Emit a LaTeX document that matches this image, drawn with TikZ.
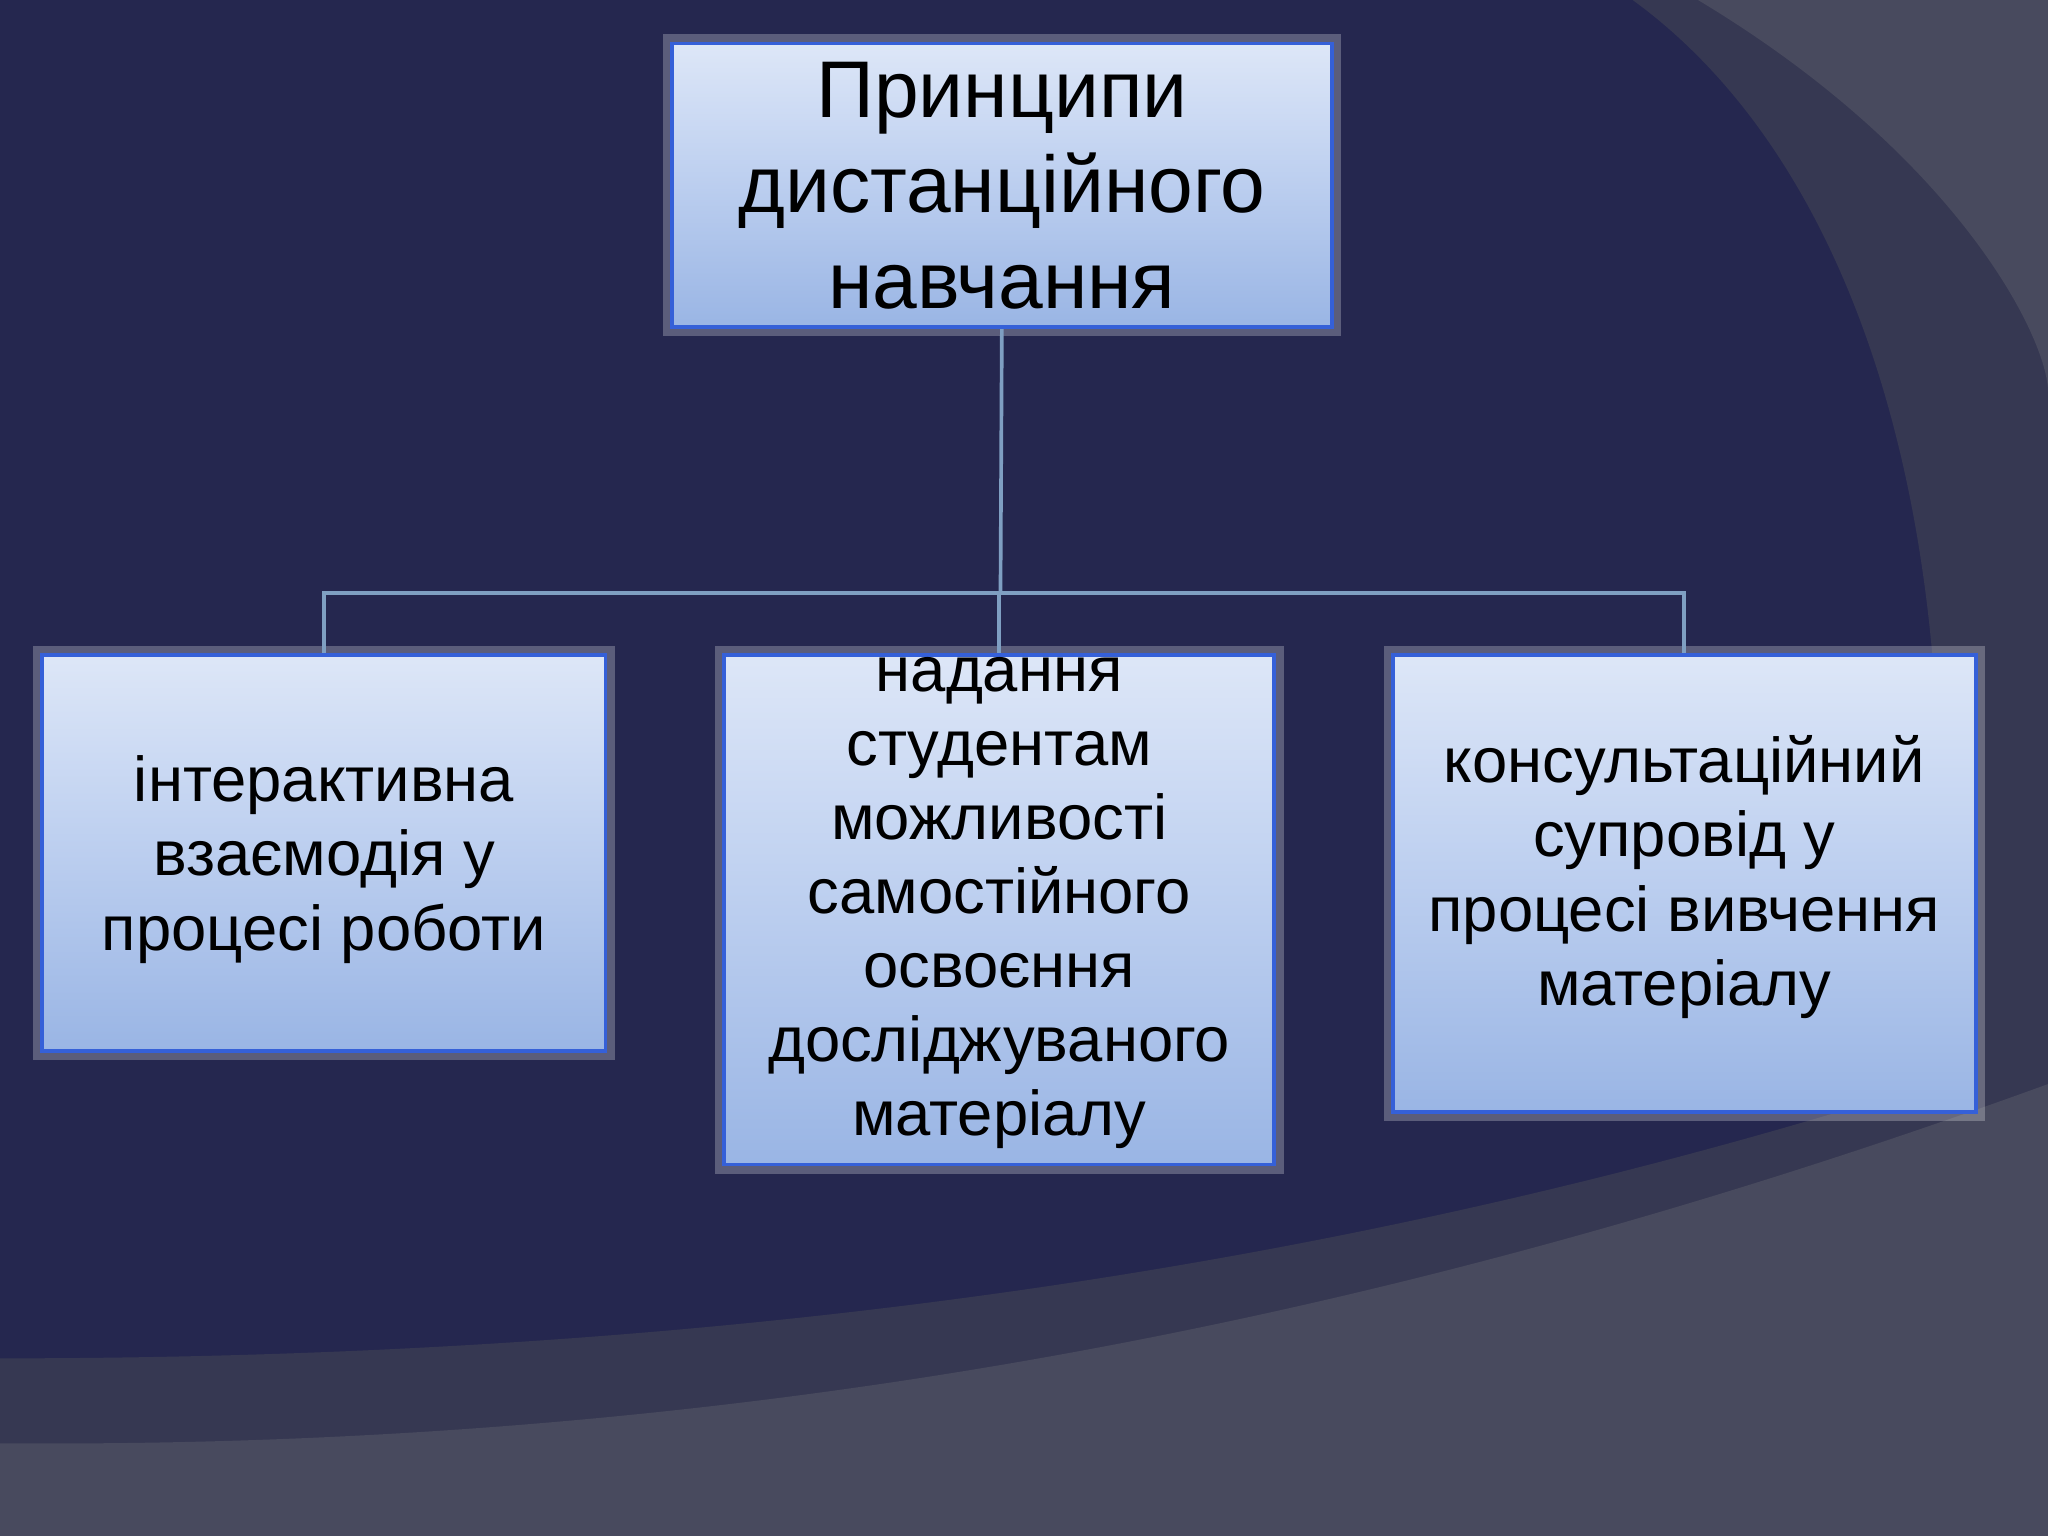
\documentclass[tikz,border=0pt]{standalone}
\usepackage{fontspec}
\setmainfont{Liberation Sans}
\definecolor{navy}{HTML}{25274F}
\definecolor{midg}{HTML}{363852}
\definecolor{lightg}{HTML}{484A5E}
\definecolor{bA}{HTML}{D2DEF6}
\definecolor{bB}{HTML}{88A8DF}
\definecolor{bC}{HTML}{C2D3F1}
\definecolor{bord}{HTML}{3560D8}
\definecolor{conn}{HTML}{7F9FC2}
\pgfdeclareverticalshading{boxsh}{100bp}{color(0bp)=(bA); color(12bp)=(bB); color(55bp)=(bC); color(100bp)=(white)}
\tikzset{
  box/.style={draw=bord, line width=0.8pt, shading=boxsh, anchor=north west, inner sep=0pt,
    preaction={draw=white, draw opacity=0.25, line width=4pt}},
  lbl/.style={align=center, text=black, inner sep=0pt},
  link/.style={draw=conn, line width=0.8pt}
}
\begin{document}
\begin{tikzpicture}[x=0.01cm,y=-0.01cm]
\fill[navy] (0,0) rectangle (1568,1176);
\useasboundingbox (0,0) rectangle (1568,1176);
\fill[midg] (1250,0) .. controls (1470,160) and (1540,560) .. (1440,1000) -- (1568,1000) -- (1568,0) -- cycle;
\fill[lightg] (1300,0) .. controls (1500,120) and (1568,260) .. (1568,300) -- (1568,0) -- cycle;
\fill[midg] (0,1040) .. controls (600,1040) and (1100,960) .. (1568,800) -- (1568,1176) -- (0,1176) -- cycle;
\fill[lightg] (0,1105) .. controls (600,1110) and (1100,1000) .. (1568,830) -- (1568,1176) -- (0,1176) -- cycle;

\node[box, minimum width=5.05cm, minimum height=2.17cm] (top) at (513,32) {};
\node[lbl, font=\fontsize{17.5}{20.8}\selectfont] at (top.center) {Принципи\\дистанційного\\навчання};

\node[box, minimum width=4.31cm, minimum height=3.03cm] (l) at (31,500) {};
\node[lbl, font=\fontsize{13.8}{16.2}\selectfont] at ([yshift=-0.05cm]l.center) {інтерактивна\\взаємодія у\\процесі роботи};

\node[box, minimum width=4.21cm, minimum height=3.90cm] (m) at (553,500) {};
\node[lbl, font=\fontsize{13.8}{16.1}\selectfont] at ([yshift=0.05cm]m.center) {надання\\студентам\\можливості\\самостійного\\освоєння\\досліджуваного\\матеріалу};

\node[box, minimum width=4.46cm, minimum height=3.50cm] (r) at (1065,500) {};
\node[lbl, font=\fontsize{13.8}{16.2}\selectfont] at ([yshift=0.05cm]r.center) {консультаційний\\супровід у\\процесі вивчення\\матеріалу};

\coordinate (j) at (766,454);
\draw[link] (top.south) -- (j);
\draw[link] (l.north) |- (j) -| (r.north);
\draw[link] (m.north) -- (m.north |- j);
\end{tikzpicture}
\end{document}
